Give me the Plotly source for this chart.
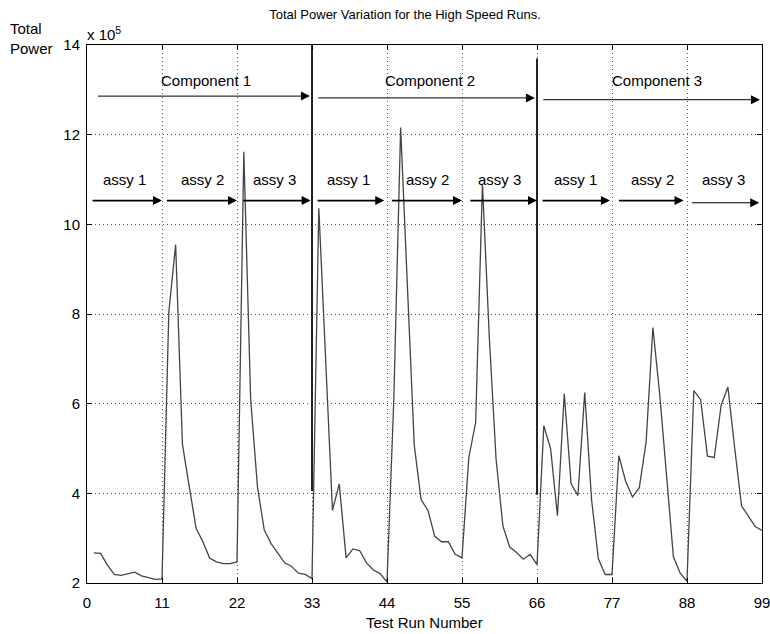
import plotly.graph_objects as go

# ---- data (values in units of 10^5) ----
run_number = list(range(1, 100))
total_power = [
    2.67, 2.66, 2.40, 2.19, 2.17, 2.21, 2.24, 2.16, 2.12, 2.08, 2.09,
    8.04, 9.55, 5.09, 4.15, 3.22, 2.92, 2.55, 2.47, 2.43, 2.43, 2.47,
    11.62, 6.10, 4.15, 3.18, 2.88, 2.66, 2.45, 2.37, 2.22, 2.19, 2.10,
    10.36, 7.00, 3.62, 4.21, 2.56, 2.76, 2.72, 2.45, 2.29, 2.21, 2.02,
    6.10, 12.16, 8.60, 5.07, 3.86, 3.62, 3.04, 2.92, 2.92, 2.64, 2.56,
    4.80, 5.58, 10.90, 7.50, 4.76, 3.27, 2.80, 2.68, 2.53, 2.64, 2.41,
    5.51, 4.99, 3.50, 6.22, 4.21, 3.95, 6.25, 3.86, 2.54, 2.19, 2.19,
    4.84, 4.27, 3.92, 4.12, 5.14, 7.70, 6.20, 4.40, 2.59, 2.22, 2.04,
    6.29, 6.09, 4.83, 4.80, 5.96, 6.37, 5.00, 3.72, 3.49, 3.26, 3.17,
]
x_ticks = [0, 11, 22, 33, 44, 55, 66, 77, 88, 99]
y_ticks = [2, 4, 6, 8, 10, 12, 14]

# component separators (x, y_bottom, y_top)
sep_x = [33, 66]
sep_y0 = [4.05, 3.97]
sep_y1 = [14.0, 13.7]

# component arrows and labels
comp_labels = ["Component 1", "Component 2", "Component 3"]
comp_label_x = [17.4, 50.3, 83.6]
comp_label_y = [13.2, 13.2, 13.2]
comp_tail_x = [1.4, 33.7, 66.7]
comp_head_x = [32.7, 65.7, 98.7]
comp_arrow_y = [12.86, 12.82, 12.78]

# assembly arrows and labels
assy_labels = ["assy 1", "assy 2", "assy 3"] * 3
assy_label_x = [5.5, 16.9, 27.5, 38.4, 50.0, 60.5, 71.6, 83.0, 93.3]
assy_label_y = [11.0] * 9
assy_tail_x = [0.6, 11.5, 22.7, 33.6, 44.5, 56.0, 66.6, 77.8, 88.5]
assy_head_x = [11.0, 22.0, 32.8, 43.6, 55.0, 66.0, 76.7, 87.5, 98.6]
assy_arrow_y = [10.53, 10.53, 10.53, 10.53, 10.53, 10.53, 10.53, 10.53, 10.48]
assy_arrow_w = [1.8, 1.8, 1.8, 1.8, 1.8, 1.8, 1.8, 1.8, 1.1]

FONT = "Liberation Sans, Arial, Helvetica, sans-serif"

fig = go.Figure()
fig.add_trace(go.Scatter(x=run_number, y=total_power, mode="lines",
                         line=dict(color="#444444", width=1.3),
                         showlegend=False, hoverinfo="skip"))
for sx, a, b in zip(sep_x, sep_y0, sep_y1):
    fig.add_trace(go.Scatter(x=[sx, sx], y=[a, b], mode="lines",
                             line=dict(color="black", width=1.7),
                             showlegend=False, hoverinfo="skip"))

ann = []
for t, x, y in zip(comp_labels, comp_label_x, comp_label_y):
    ann.append(dict(x=x, y=y, xref="x", yref="y", text=t, showarrow=False,
                    font=dict(size=15, color="black", family=FONT),
                    xanchor="center", yanchor="middle"))
for tx, hx, y in zip(comp_tail_x, comp_head_x, comp_arrow_y):
    ann.append(dict(x=hx, y=y, ax=tx, ay=y, xref="x", yref="y", axref="x", ayref="y",
                    text="", showarrow=True, arrowhead=2, arrowsize=1.8,
                    arrowwidth=1.0, arrowcolor="black"))
for t, x, y in zip(assy_labels, assy_label_x, assy_label_y):
    ann.append(dict(x=x, y=y, xref="x", yref="y", text=t, showarrow=False,
                    font=dict(size=15, color="black", family=FONT),
                    xanchor="center", yanchor="middle"))
for tx, hx, y, w in zip(assy_tail_x, assy_head_x, assy_arrow_y, assy_arrow_w):
    ann.append(dict(x=hx, y=y, ax=tx, ay=y, xref="x", yref="y", axref="x", ayref="y",
                    text="", showarrow=True, arrowhead=2, arrowsize=1.8 / w,
                    arrowwidth=w, arrowcolor="black"))
# exponent label and y label
ann.append(dict(x=-0.003, y=1.022, xref="paper", yref="paper", text="x 10<sup>5</sup>",
                showarrow=False, xanchor="left", yanchor="middle",
                font=dict(size=15, color="black", family=FONT)))
ann.append(dict(x=-0.117, y=1.012, xref="paper", yref="paper", text="Total<br>Power",
                showarrow=False, xanchor="left", yanchor="middle", align="left",
                font=dict(size=15, color="black", family=FONT)))
ann.append(dict(x=0.5, y=-0.0725, xref="paper", yref="paper", text="Test Run Number",
                showarrow=False, xanchor="center", yanchor="middle",
                font=dict(size=15, color="black", family=FONT)))

fig.update_layout(
    width=770, height=634, autosize=False,
    margin=dict(l=87, r=8, t=45, b=51, autoexpand=False),
    paper_bgcolor="white", plot_bgcolor="white",
    title=dict(text="Total Power Variation for the High Speed Runs.",
               x=0.526, xref="container", xanchor="center",
               y=1 - 14 / 634, yref="container", yanchor="middle",
               font=dict(size=13, color="black", family=FONT)),
    annotations=ann,
    showlegend=False,
)
axis_common = dict(showline=True, linecolor="black", linewidth=1, mirror="ticks",
                   ticks="inside", ticklen=5, tickcolor="black", tickwidth=1,
                   showgrid=True, gridcolor="#555555", griddash="1px,3px", gridwidth=1,
                   zeroline=False, ticklabeloverflow="allow", automargin=False,
                   tickfont=dict(size=15, color="black", family=FONT))
fig.update_xaxes(range=[0, 99], tickvals=x_ticks, ticktext=[str(v) for v in x_ticks],
                 ticklabelstandoff=6, **axis_common)
fig.update_yaxes(range=[2, 14], tickvals=y_ticks, ticktext=[str(v) for v in y_ticks],
                 ticklabelstandoff=3, **axis_common)

fig.write_html("out.html", config={"displayModeBar": False},
               post_script="document.body.style.margin='0px';document.body.style.overflow='hidden';")
